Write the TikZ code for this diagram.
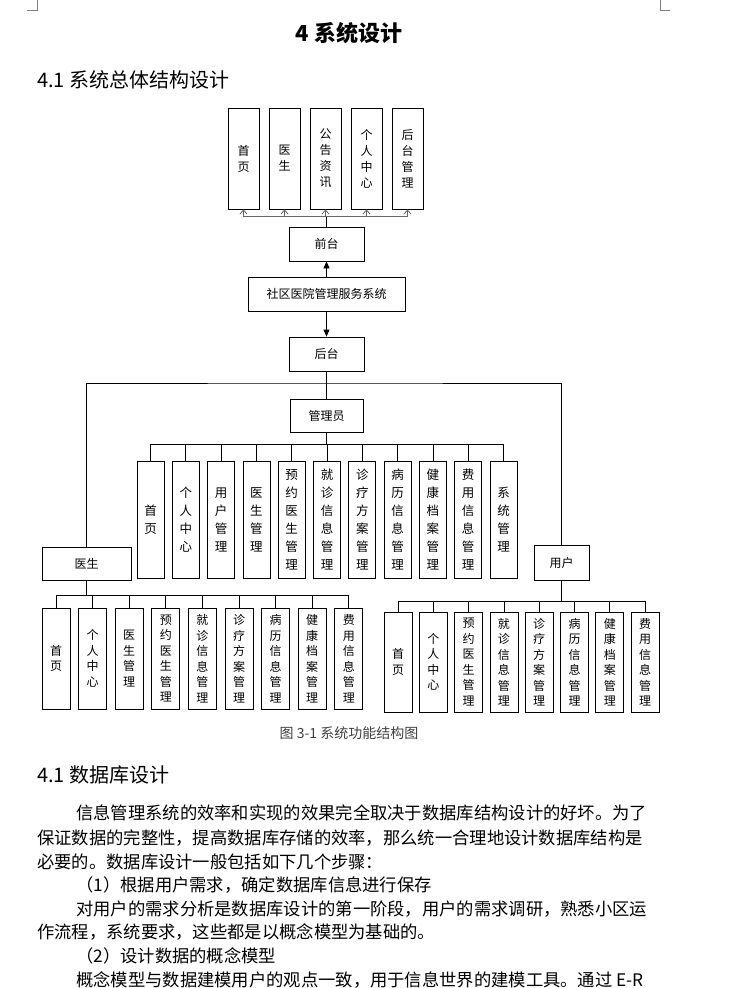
\documentclass[tikz,border=0pt]{standalone}
\usepackage{fontspec}
\setmainfont{Noto Sans CJK SC}
\usetikzlibrary{arrows.meta}
\begin{document}
\begin{tikzpicture}[x=1pt,y=-1pt,
  vbox/.style={draw,line width=0.8pt,inner sep=0pt,align=center,font=\fontsize{12}{16}\selectfont},
  hbox/.style={draw,line width=0.8pt,inner sep=0pt,font=\fontsize{12}{14}\selectfont},
  conn/.style={line width=0.8pt},
  txt/.style={anchor=west,inner sep=0pt,font=\fontsize{17.3}{18}\selectfont}]
\useasboundingbox (0,0) rectangle (735,988);
\draw[gray] (37,0) -- (37,10) -- (27,10);
\draw[gray] (660,0) -- (660,10) -- (670,10);
\node[font=\fontsize{22}{24}\selectfont\bfseries] (title) at (349,33) {4 系统设计};
\node[anchor=west,inner sep=0pt,font=\fontsize{20}{24}\selectfont] (h1) at (37,80) {4.1 系统总体结构设计};
% top
\foreach \t [count=\i] in {{首\\页},{医\\生},{公\\告\\资\\讯},{个\\人\\中\\心},{后\\台\\管\\理}}{
  \node[vbox,minimum width=31,minimum height=101] (t\i) at ({243.5+41*(\i-1)},158.5) {\t};
}
\node[hbox,minimum width=75,minimum height=34] (qt) at (326.5,244) {前台};
\node[hbox,minimum width=157,minimum height=34] (sys) at (326.5,294) {社区医院管理服务系统};
\node[hbox,minimum width=75,minimum height=34] (ht) at (326.5,354) {后台};
\coordinate (tb) at (326.5,216);
\draw[conn] (qt.north) -- (tb);
\foreach \i in {1,...,5}{\draw[conn,gray!80!black,-{Straight Barb[length=4pt,width=7pt]}] (tb) -| (t\i.south);}
\draw[conn,-{Triangle[length=7pt,width=6pt]}] (sys.north) -- (qt.south);
\draw[conn,-{Triangle[length=7pt,width=6pt]}] (sys.south) -- (ht.south|-ht.north);
% admin
\node[hbox,minimum width=73,minimum height=33] (adm) at (326.5,415.5) {管理员};
\coordinate (bus) at (326.5,383);
\draw[conn] (ht.south) -- (adm.north);
\node[hbox,minimum width=89,minimum height=33] (doc) at (86.5,563.5) {医生};
\node[hbox,minimum width=55,minimum height=35] (usr) at (561.5,562.5) {用户};
\draw[conn] (doc.north) |- (bus) -| (usr.north);
\foreach \t [count=\i] in {{首\\页},{个\\人\\中\\心},{用\\户\\管\\理},{医\\生\\管\\理},{预\\约\\医\\生\\管\\理},{就\\诊\\信\\息\\管\\理},{诊\\疗\\方\\案\\管\\理},{病\\历\\信\\息\\管\\理},{健\\康\\档\\案\\管\\理},{费\\用\\信\\息\\管\\理},{系\\统\\管\\理}}{
  \node[vbox,minimum width=27,minimum height=117,font=\fontsize{12.5}{18}\selectfont] (a\i) at ({150.5+35.3*(\i-1)},519.5) {\t};
  \draw[conn] (adm.south) -- ++(0,11.5) -| (a\i.north);
}
\foreach \t [count=\i] in {{首\\页},{个\\人\\中\\心},{医\\生\\管\\理},{预\\约\\医\\生\\管\\理},{就\\诊\\信\\息\\管\\理},{诊\\疗\\方\\案\\管\\理},{病\\历\\信\\息\\管\\理},{健\\康\\档\\案\\管\\理},{费\\用\\信\\息\\管\\理}}{
  \node[vbox,minimum width=28,minimum height=101,font=\fontsize{12}{15.5}\selectfont] (d\i) at ({56+36.6*(\i-1)},658.5) {\t};
  \draw[conn] (doc.south) -- ++(0,15) -| (d\i.north);
}
\foreach \t [count=\i] in {{首\\页},{个\\人\\中\\心},{预\\约\\医\\生\\管\\理},{就\\诊\\信\\息\\管\\理},{诊\\疗\\方\\案\\管\\理},{病\\历\\信\\息\\管\\理},{健\\康\\档\\案\\管\\理},{费\\用\\信\\息\\管\\理}}{
  \node[vbox,minimum width=28,minimum height=100,font=\fontsize{12}{15.5}\selectfont] (u\i) at ({398+35.3*(\i-1)},662) {\t};
  \draw[conn] (usr.south) -- ++(0,21) -| (u\i.north);
}
\node[font=\fontsize{14}{16}\selectfont,text=black!75] (cap) at (349,733) {图 3-1 系统功能结构图};
\node[anchor=west,inner sep=0pt,font=\fontsize{20}{24}\selectfont] (h2) at (37,775) {4.1 数据库设计};
\node[txt] (p1) at (76,813) {信息管理系统的效率和实现的效果完全取决于数据库结构设计的好坏。为了};
\node[txt] (p2) at (37,838) {保证数据的完整性，提高数据库存储的效率，那么统一合理地设计数据库结构是};
\node[txt] (p3) at (37,862) {必要的。数据库设计一般包括如下几个步骤：};
\node[txt] (p4) at (76,885) {（1）根据用户需求，确定数据库信息进行保存};
\node[txt] (p5) at (76,909) {对用户的需求分析是数据库设计的第一阶段，用户的需求调研，熟悉小区运};
\node[txt] (p6) at (37,932) {作流程，系统要求，这些都是以概念模型为基础的。};
\node[txt] (p7) at (76,956) {（2）设计数据的概念模型};
\node[txt] (p8) at (76,980) {概念模型与数据建模用户的观点一致，用于信息世界的建模工具。通过 E-R};
\end{tikzpicture}
\end{document}
